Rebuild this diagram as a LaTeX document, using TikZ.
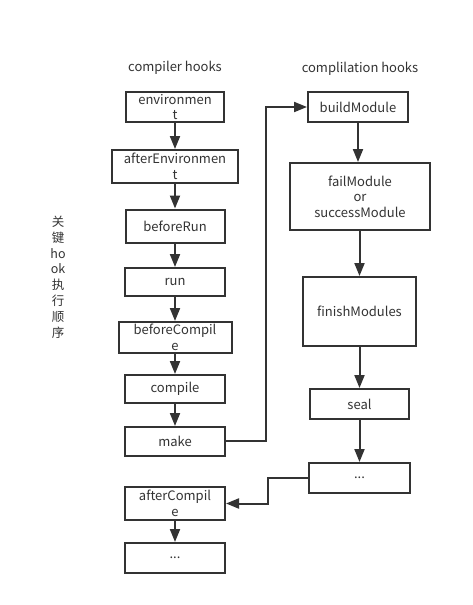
\documentclass[tikz,border=0pt]{standalone}
\usepackage{fontspec}
\setmainfont{Noto Sans CJK SC}
\usetikzlibrary{arrows.meta}
\definecolor{ink}{HTML}{333333}
\begin{document}
\begin{tikzpicture}[x=1pt,y=-1pt,
  box/.style={draw=ink,line width=2pt,fill=white,inner sep=0pt,align=center,
    font=\fontsize{13}{15.5}\selectfont,text=ink},
  lbl/.style={inner sep=0pt,align=center,font=\fontsize{13}{15}\selectfont,text=ink},
  arr/.style={draw=ink,line width=2pt,-{Triangle[length=13pt,width=10pt]}}]
\useasboundingbox[fill=white] (0,0) rectangle (472,605);
% titles
\node[lbl] (t1) at (175,68) {compiler hooks};
\node[lbl] (t2) at (360,69) {complilation hooks};
\node[lbl,font=\fontsize{12.5}{15.8}\selectfont] (side) at (58,277) {关\\键\\ho\\ok\\执\\行\\顺\\序};
% left column
\node[box,minimum width=98pt,minimum height=30pt] (env) at (175,107) {environmen\\t};
\node[box,minimum width=126pt,minimum height=33pt] (aenv) at (175,166.5) {afterEnvironmen\\t};
\node[box,minimum width=99pt,minimum height=33pt] (brun) at (175,226) {beforeRun};
\node[box,minimum width=100pt,minimum height=28pt] (run) at (175,282) {run};
\node[box,minimum width=113pt,minimum height=31pt] (bcomp) at (175,337.5) {beforeCompil\\e};
\node[box,minimum width=100pt,minimum height=28pt] (comp) at (175,389) {compile};
\node[box,minimum width=100pt,minimum height=29pt] (make) at (175,441.5) {make};
\node[box,minimum width=100pt,minimum height=33pt] (acomp) at (175,503.5) {afterCompil\\e};
\node[box,minimum width=100pt,minimum height=30pt] (ldots) at (175,558) {...};
% right column
\node[box,minimum width=100pt,minimum height=30pt] (build) at (358,107) {buildModule};
\node[box,minimum width=140pt,minimum height=67pt] (fail) at (360,196.5) {failModule\\or\\successModule};
\node[box,minimum width=113pt,minimum height=69pt] (finish) at (359.5,311.5) {finishModules};
\node[box,minimum width=99pt,minimum height=30pt] (seal) at (359.5,404) {seal};
\node[box,minimum width=101pt,minimum height=30pt] (rdots) at (359.5,478) {...};
% left arrows
\draw[arr] (env) -- (aenv);
\draw[arr] (aenv) -- (brun);
\draw[arr] (brun) -- (run);
\draw[arr] (run) -- (bcomp);
\draw[arr] (bcomp) -- (comp);
\draw[arr] (comp) -- (make);
\draw[arr] (acomp) -- (ldots);
% right arrows
\draw[arr] (build) -- (fail.north -| build);
\draw[arr] (fail.south -| finish) -- (finish);
\draw[arr] (finish) -- (seal);
\draw[arr] (seal) -- (rdots);
% cross connectors
\coordinate (c1) at (266,441);
\coordinate (c2) at (268,478);
\draw[arr] (make.east |- c1) -- (c1) -- (c1 |- build.west) -- (build.west);
\draw[arr] (rdots.west) -- (c2) -- (c2 |- acomp.east) -- (acomp.east);
\end{tikzpicture}
\end{document}
